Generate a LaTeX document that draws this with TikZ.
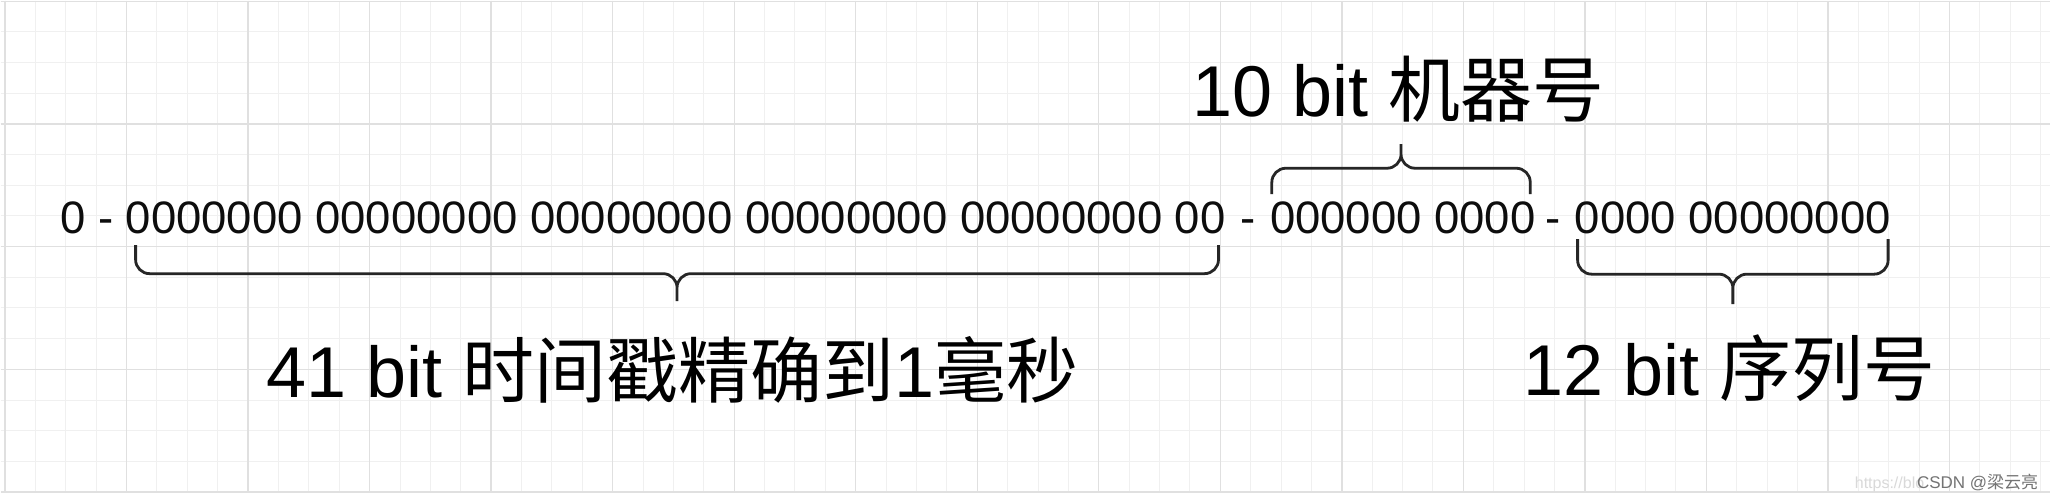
\documentclass[tikz,border=0pt]{standalone}
\usepackage{fontspec}
\setmainfont{Liberation Sans}
\newfontfamily\cjk{Noto Sans CJK SC}
\usetikzlibrary{calc}

% brace: #1,#2 = ends, #3 = arm length, #4 = spike length (negative = upwards)
\newcommand\drawBrace[4]{
    \draw[braceline] let \p1 = (#1), \p2 = (#2) in
    (\p1) -- ++(0,#3) -- ({(\x1+\x2)/2},{\y1-(#3pt)}) -- ++(0,#4)
    (\p2) -- ++(0,#3) -- ({(\x1+\x2)/2},{\y2-(#3pt)}) -- ++(0,#4);
}

\begin{document}
\begin{tikzpicture}[
    x=1pt, y=-1pt,
    bits/.style={anchor=base west, inner sep=0pt, text=black!95,
        font=\fontsize{45.5}{50}\selectfont},
    bitlabel/.style={anchor=base west, inner sep=0pt, text=black,
        font=\fontsize{72}{80}\selectfont},
    braceline/.style={line width=2.8pt, black!85, rounded corners=14pt},
    gridminor/.style={line width=1pt, black!6},
    gridmajor/.style={line width=1.4pt, black!12}
]

\fill[white] (0,0) rectangle (2051,500);

% Grid
\foreach \i in {0,...,67}
    \draw[gridminor] ({4.4+30.4*\i},0) -- ({4.4+30.4*\i},492);
\foreach \j in {0,...,16}
    \draw[gridminor] (0,{0.5+30.7*\j}) -- (2051,{0.5+30.7*\j});
\foreach \i in {0,...,16}
    \draw[gridmajor] ({4.4+121.6*\i},0) -- ({4.4+121.6*\i},492);
\foreach \j in {0,...,4}
    \draw[gridmajor] (0,{0.5+122.8*\j}) -- (2051,{0.5+122.8*\j});

% The 64 bits
\node[bits] (sign)   at (60,232.5)   {0 -};
\node[bits] (stamp)  at (125,232.5)  {0000000 00000000 00000000 00000000 00000000 00};
\node[bits] (dashA)  at (1240,232.5) {-};
\node[bits] (worker) at (1270,232.5) {000000 0000};
\node[bits] (dashB)  at (1546,232.5) {-};
\node[bits] (seq)    at (1575,232.5) {0000 00000000};

% Brace ends
\coordinate (stampL)  at ([shift={(10,11.5)}]stamp.south west);
\coordinate (stampR)  at ([shift={(-7.5,11.5)}]stamp.south east);
\coordinate (workerL) at ([shift={(2,-39.5)}]worker.south west);
\coordinate (workerR) at ([shift={(-5.5,-39.5)}]worker.south east);
\coordinate (seqL)    at ([shift={(3,5.5)}]seq.south west);
\coordinate (seqR)    at ([shift={(-3,5.5)}]seq.south east);

\drawBrace{stampL}{stampR}{28.5}{27.5}
\drawBrace{workerL}{workerR}{-26}{-24}
\drawBrace{seqL}{seqR}{35}{30}

% Labels
\node[bitlabel] (workerLabel) at (1192,115.5) {10 bit {\cjk 机器号}};
\node[bitlabel] (stampLabel)  at (266,397)    {41 bit {\cjk 时间戳精确到}1{\cjk 毫秒}};
\node[bitlabel] (seqLabel)    at (1524,395)   {12 bit {\cjk 序列号}};

% Watermark
\node[anchor=base east, inner sep=0pt, text=black!15, font=\fontsize{16}{18}\selectfont]
    (url) at (1925,488) {https://blo};
\node[anchor=base east, inner sep=0pt, text=black!55, font=\fontsize{17}{20}\selectfont]
    (mark) at (2039,488) {CSDN @{\cjk 梁云亮}};

\end{tikzpicture}
\end{document}
